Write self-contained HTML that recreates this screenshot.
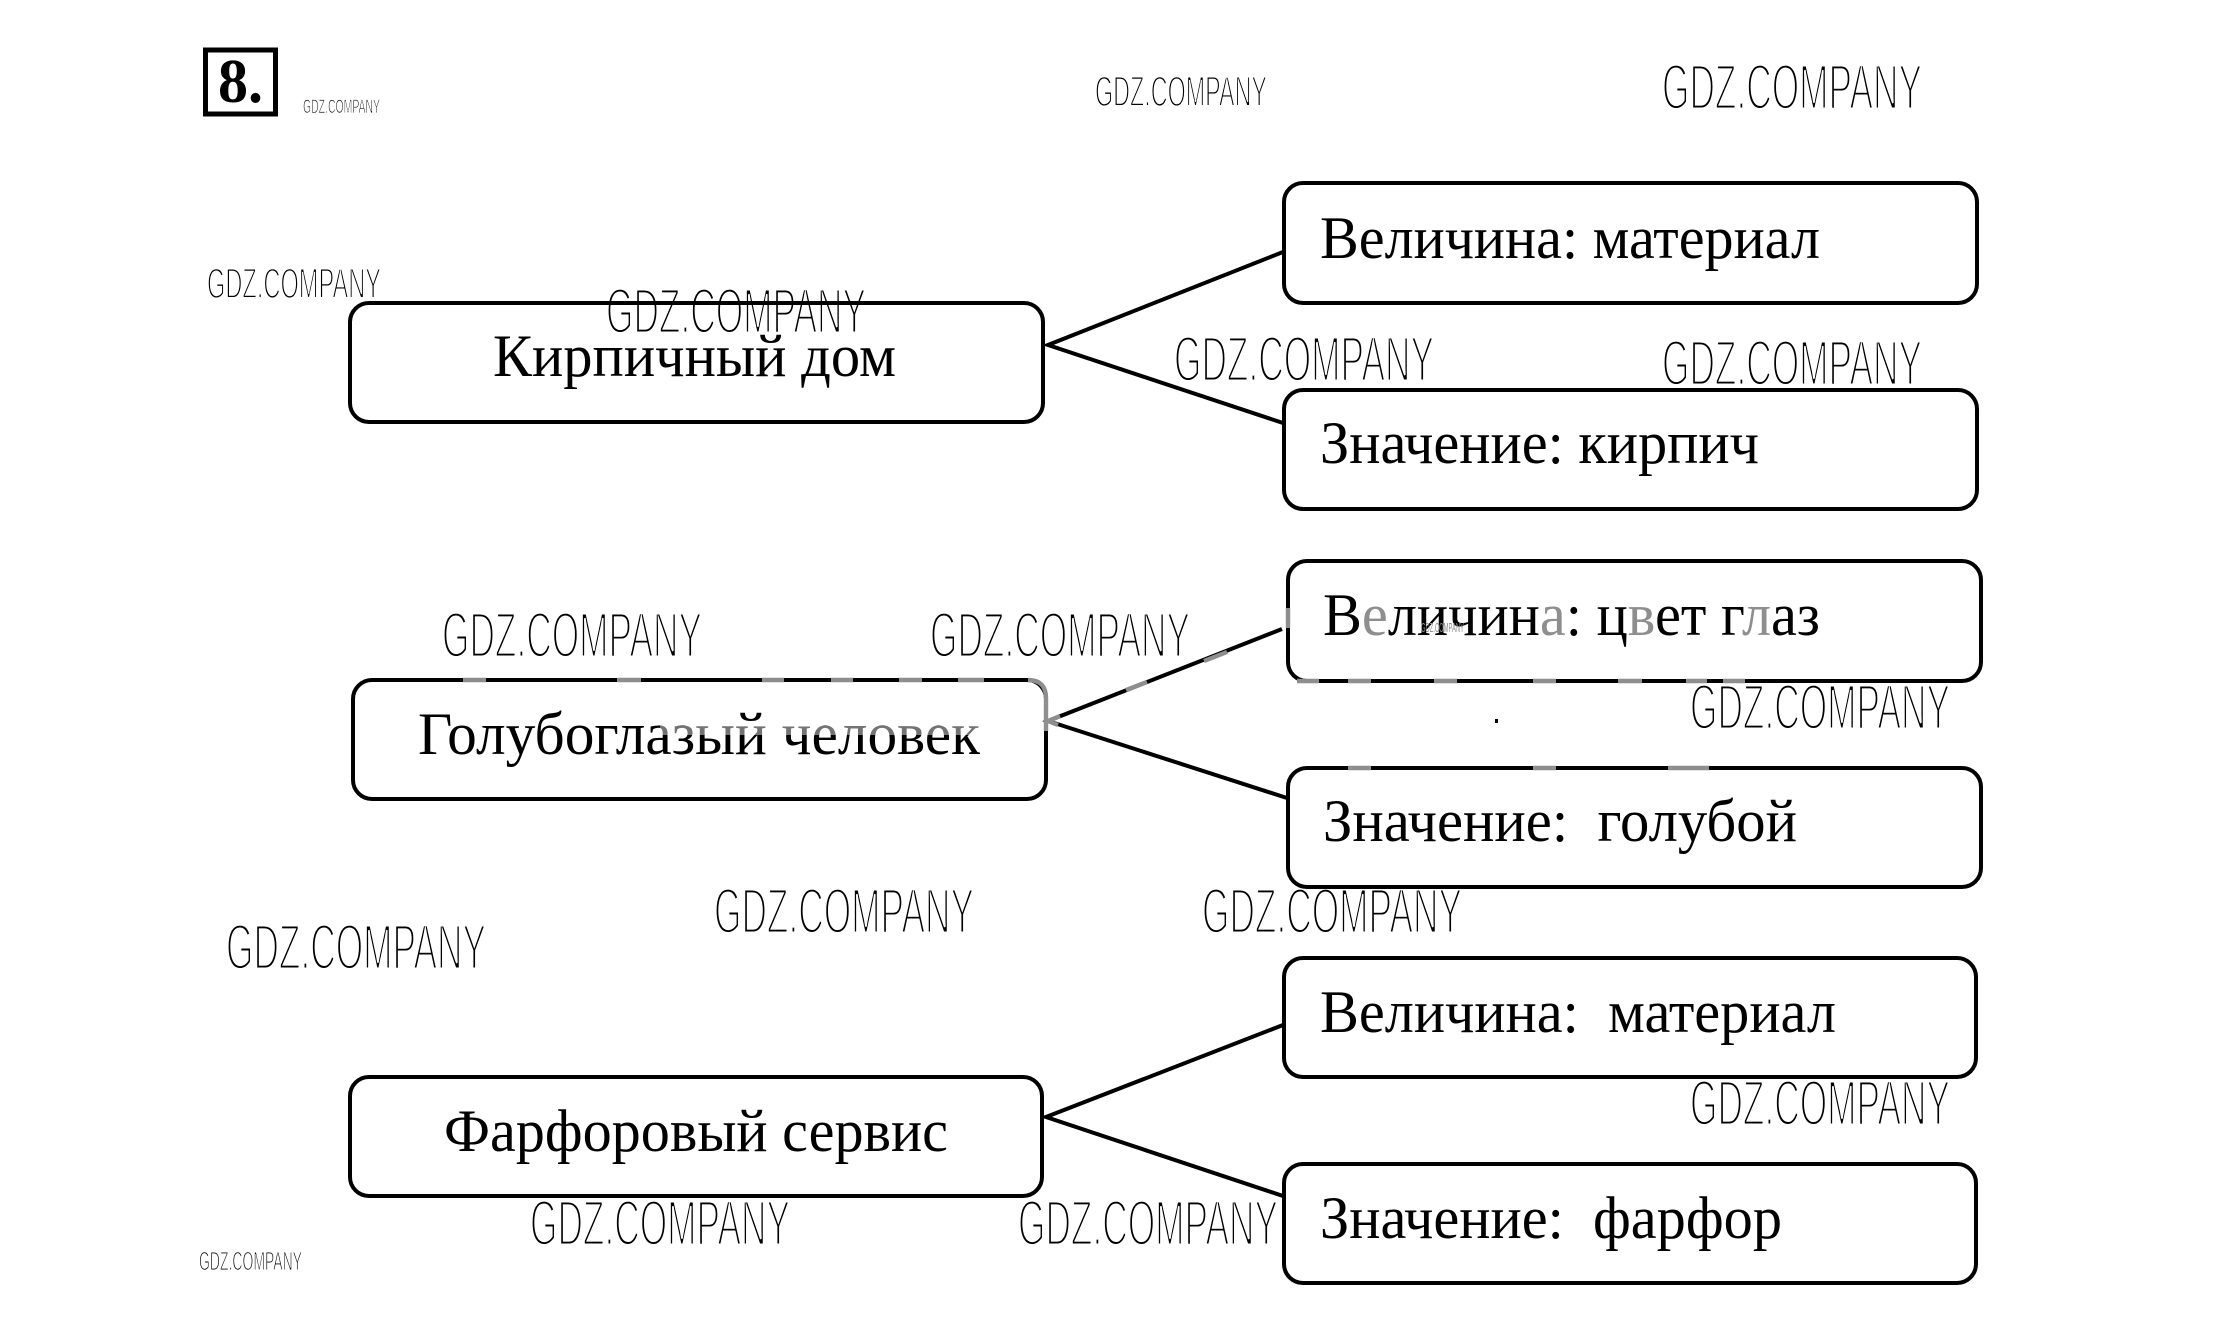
<!DOCTYPE html>
<html lang="ru">
<head>
<meta charset="utf-8">
<title>8</title>
<style>
html,body{margin:0;padding:0;background:#fff;width:2222px;height:1339px;overflow:hidden}
svg{display:block}
.w{font-family:"Liberation Sans",sans-serif;fill:#000;stroke:#fff}
.l{font-size:64px;stroke-width:2.9px}
.m{font-size:43px;stroke-width:1.9px}
.t{font-family:"Liberation Serif",serif;font-size:60px;fill:#000}
.b{fill:none;stroke:#000;stroke-width:4}
.c{stroke:#000;stroke-width:4;fill:none}
.g{stroke:#8e8e8e;stroke-width:4.4;fill:none}
.gt{fill:#8e8e8e}
</style>
</head>
<body>
<svg xmlns="http://www.w3.org/2000/svg" width="2222" height="1339" viewBox="0 0 2222 1339">
<rect width="2222" height="1339" fill="#fff"/>

<!-- watermarks -->
<text class="w m" x="1095" y="106" textLength="172" lengthAdjust="spacingAndGlyphs">GDZ.COMPANY</text>
<text class="w l" x="1662" y="109" textLength="260" lengthAdjust="spacingAndGlyphs">GDZ.COMPANY</text>
<text class="w m" x="207" y="298" textLength="174" lengthAdjust="spacingAndGlyphs">GDZ.COMPANY</text>
<text class="w l" x="606" y="333" textLength="260" lengthAdjust="spacingAndGlyphs">GDZ.COMPANY</text>
<text class="w l" x="1174" y="381" textLength="260" lengthAdjust="spacingAndGlyphs">GDZ.COMPANY</text>
<text class="w l" x="1662" y="385" textLength="260" lengthAdjust="spacingAndGlyphs">GDZ.COMPANY</text>
<text class="w l" x="442" y="657" textLength="260" lengthAdjust="spacingAndGlyphs">GDZ.COMPANY</text>
<text class="w l" x="930" y="657" textLength="260" lengthAdjust="spacingAndGlyphs">GDZ.COMPANY</text>
<text class="w l" x="1690" y="729" textLength="260" lengthAdjust="spacingAndGlyphs">GDZ.COMPANY</text>
<text class="w l" x="714" y="933" textLength="260" lengthAdjust="spacingAndGlyphs">GDZ.COMPANY</text>
<text class="w l" x="1202" y="933" textLength="260" lengthAdjust="spacingAndGlyphs">GDZ.COMPANY</text>
<text class="w l" x="226" y="969" textLength="260" lengthAdjust="spacingAndGlyphs">GDZ.COMPANY</text>
<text class="w l" x="530" y="1245" textLength="260" lengthAdjust="spacingAndGlyphs">GDZ.COMPANY</text>
<text class="w l" x="1018" y="1245" textLength="260" lengthAdjust="spacingAndGlyphs">GDZ.COMPANY</text>
<text class="w l" x="1690" y="1125" textLength="260" lengthAdjust="spacingAndGlyphs">GDZ.COMPANY</text>
<text class="w" x="303" y="113" font-size="19" stroke-width="0.8" textLength="77" lengthAdjust="spacingAndGlyphs">GDZ.COMPANY</text>
<text class="w" x="199" y="1270" font-size="26" stroke-width="1.1" textLength="103" lengthAdjust="spacingAndGlyphs">GDZ.COMPANY</text>

<!-- number badge -->
<rect x="205.5" y="50" width="70" height="64" fill="none" stroke="#000" stroke-width="5"/>
<text x="218" y="102" font-family="Liberation Serif, serif" font-size="62" font-weight="700" textLength="45" lengthAdjust="spacingAndGlyphs">8.</text>

<!-- group 1 -->
<rect class="b" x="350" y="303" width="693" height="119" rx="19"/>
<rect class="b" x="1284" y="183" width="693" height="120" rx="19"/>
<rect class="b" x="1284" y="390" width="693" height="119" rx="19"/>
<path class="c" d="M1283 252 L1048 345 L1283 423"/>
<text class="t" x="493" y="376" textLength="403" lengthAdjust="spacingAndGlyphs">Кирпичный дом</text>
<text class="t" x="1320" y="258" textLength="500" lengthAdjust="spacingAndGlyphs">Величина: материал</text>
<text class="t" x="1320" y="463" textLength="439" lengthAdjust="spacingAndGlyphs">Значение: кирпич</text>

<!-- group 2 -->
<rect class="b" x="353" y="680" width="693" height="119" rx="19"/>
<rect class="b" x="1288" y="561" width="693" height="120" rx="19"/>
<rect class="b" x="1288" y="768" width="693" height="119" rx="19"/>
<path class="c" d="M1282 629 L1048 721 L1287 798"/>
<text class="t" x="418" y="754" textLength="562" lengthAdjust="spacingAndGlyphs">Голубоглазый человек</text>
<rect x="660" y="726" width="325" height="9" fill="#fff" opacity=".45"/>
<text class="t" x="1323" y="635" textLength="497" lengthAdjust="spacingAndGlyphs">В<tspan class="gt">е</tspan>личин<tspan class="gt">а</tspan>: ц<tspan class="gt">в</tspan>ет г<tspan class="gt">л</tspan>аз</text>
<text class="t" x="1323" y="841" textLength="474" lengthAdjust="spacingAndGlyphs" xml:space="preserve">Значение:  голубой</text>

<!-- washed fragments on group 2 -->
<g class="g">
<path d="M463 680H486M617 680H641M762 680H784M831 680H853M899 680H922M958 680H984"/>
<path d="M1028 680 Q1046 680 1046 698 V731"/>
<path d="M1048 721 L1060 716 M1048 721 L1058 725"/>
<path d="M1126 690 L1147 682 M1204 661 L1227 652"/>
<path d="M1288 608 V628"/>
<path d="M1297 681H1319M1348 681H1371M1434 681H1457M1533 681H1556M1618 681H1642M1686 681H1707M1723 681H1745"/>
<path d="M1348 768H1371M1533 768H1556M1668 768H1709"/>
</g>
<rect x="1495" y="719" width="3" height="4" fill="#000"/>
<text x="1421" y="632" font-family="Liberation Sans, sans-serif" font-size="13" fill="#8e8e8e" textLength="43" lengthAdjust="spacingAndGlyphs">GDZ.COMPANY</text>

<!-- group 3 -->
<rect class="b" x="350" y="1077" width="692" height="119" rx="19"/>
<rect class="b" x="1284" y="958" width="692" height="119" rx="19"/>
<rect class="b" x="1284" y="1164" width="692" height="119" rx="19"/>
<path class="c" d="M1283 1025 L1046 1117 L1283 1196"/>
<text class="t" x="444" y="1151" textLength="504" lengthAdjust="spacingAndGlyphs">Фарфоровый сервис</text>
<text class="t" x="1320" y="1032" textLength="516" lengthAdjust="spacingAndGlyphs" xml:space="preserve">Величина:  материал</text>
<text class="t" x="1320" y="1238" textLength="462" lengthAdjust="spacingAndGlyphs" xml:space="preserve">Значение:  фарфор</text>
</svg>
</body>
</html>
